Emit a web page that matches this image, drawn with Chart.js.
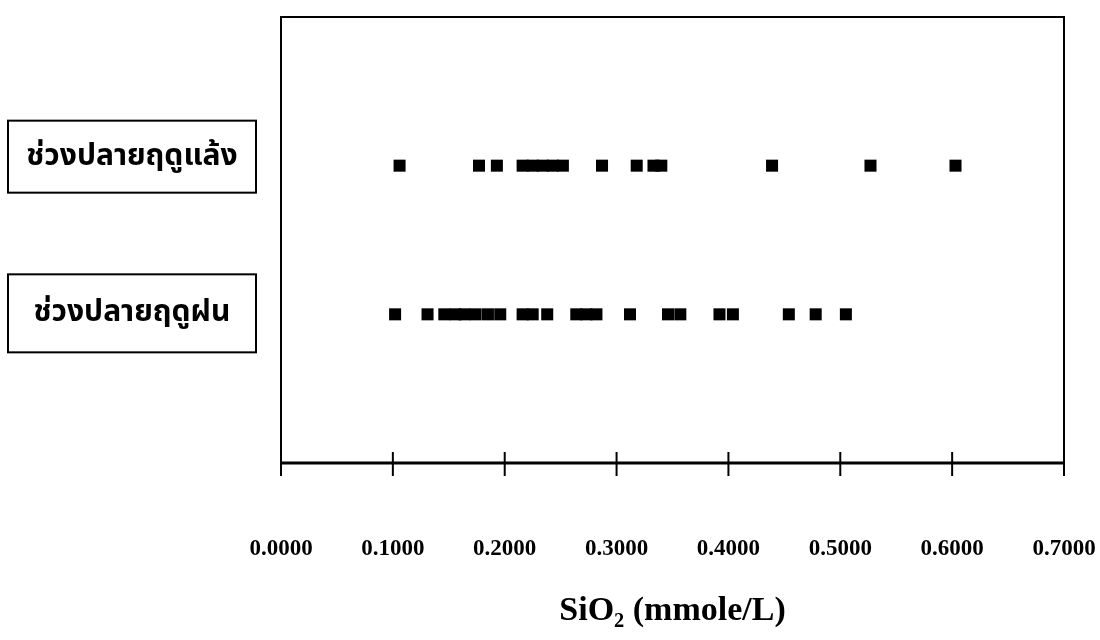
<!DOCTYPE html>
<html>
<head>
<meta charset="utf-8">
<title>SiO2</title>
<script src="https://cdn.jsdelivr.net/npm/chart.js@4.4.1/dist/chart.umd.min.js"></script>
<style>
  html, body { margin: 0; padding: 0; background: #fff; }
  #wrap { width: 1100px; height: 640px; }
</style>
</head>
<body>
<div id="wrap"><canvas id="myChart" width="1100" height="640"></canvas></div>
<script>
// season rows (top to bottom)
var categories = ['ช่วงปลายฤดูแล้ง', 'ช่วงปลายฤดูฝน'];

// SiO2 concentrations, mmole/L
var dryValues = [0.106, 0.177, 0.193, 0.216, 0.225, 0.234, 0.243, 0.252,
                 0.287, 0.318, 0.333, 0.340, 0.439, 0.527, 0.603];
var wetValues = [0.102, 0.131, 0.146, 0.156, 0.164, 0.174, 0.185, 0.196,
                 0.216, 0.225, 0.238, 0.264, 0.273, 0.282, 0.312, 0.346,
                 0.357, 0.392, 0.404, 0.454, 0.478, 0.505];

var xTicks = [0, 0.1, 0.2, 0.3, 0.4, 0.5, 0.6, 0.7];
var xTitle = 'SiO₂ (mmole/L)';

var thaiFont = "'Noto Sans Thai', 'Noto Sans Thai Looped', 'Loma', 'Garuda', 'Tlwg Typo', 'Noto Sans', sans-serif";
var serifFont = "'Liberation Serif', 'Times New Roman', serif";

function toPoints(values, row) {
  return values.map(function (v) { return { x: v, y: row }; });
}

/* frame, crossing tick marks and the boxed season labels */
var framePlugin = {
  id: 'frame',
  afterDraw: function (chart) {
    var ctx = chart.ctx;
    var a = chart.chartArea;
    var xs = chart.scales.x;
    var ys = chart.scales.y;
    ctx.save();
    ctx.strokeStyle = '#000';
    ctx.lineWidth = 2;
    ctx.beginPath();
    ctx.moveTo(a.left, a.bottom);
    ctx.lineTo(a.left, a.top);
    ctx.lineTo(a.right, a.top);
    ctx.lineTo(a.right, a.bottom);
    ctx.stroke();
    ctx.lineWidth = 3;
    ctx.beginPath();
    ctx.moveTo(a.left, a.bottom);
    ctx.lineTo(a.right, a.bottom);
    ctx.stroke();
    ctx.lineWidth = 2;
    xTicks.forEach(function (t) {
      var px = xs.getPixelForValue(t);
      ctx.beginPath();
      ctx.moveTo(px, a.bottom - 11);
      ctx.lineTo(px, a.bottom + 13);
      ctx.stroke();
    });

    var shifts = [-9, -1];
    var heights = [72, 78];
    ctx.font = 'bold 30px ' + thaiFont;
    ctx.textAlign = 'center';
    ctx.textBaseline = 'middle';
    ctx.fillStyle = '#000';
    categories.forEach(function (c, i) {
      var cy = ys.getPixelForValue(i + 1) + shifts[i];
      ctx.lineWidth = 2;
      ctx.strokeRect(8, cy - heights[i] / 2, 248, heights[i]);
      ctx.fillText(c, 132, cy + 2);
    });
    ctx.restore();
  }
};

const config = {
  type: 'scatter',
  data: {
    datasets: [
      {
        label: categories[0],
        data: toPoints(dryValues, 1),
        backgroundColor: '#000',
        borderWidth: 0,
        pointStyle: 'rect',
        pointRadius: 8.5,
        pointHoverRadius: 8.5
      },
      {
        label: categories[1],
        data: toPoints(wetValues, 2),
        backgroundColor: '#000',
        borderWidth: 0,
        pointStyle: 'rect',
        pointRadius: 8.5,
        pointHoverRadius: 8.5
      }
    ]
  },
  options: {
    responsive: false,
    animation: false,
    layout: {
      padding: { top: 17, left: 281, right: 36, bottom: 0 }
    },
    scales: {
      x: {
        type: 'linear',
        min: 0,
        max: 0.7,
        afterFit: function (scale) {
          scale.height = 177;
          scale.paddingLeft = 0;
          scale.paddingRight = 0;
        },
        afterBuildTicks: function (scale) {
          scale.ticks = xTicks.map(function (v) { return { value: v }; });
        },
        grid: { display: false, drawTicks: false },
        border: { display: false },
        ticks: {
          padding: 72,
          color: '#000',
          font: { family: serifFont, size: 23, weight: 'bold' },
          maxRotation: 0,
          callback: function (v) { return Number(v).toFixed(4); }
        },
        title: {
          display: true,
          text: xTitle,
          color: '#000',
          padding: { top: 0, bottom: 8 },
          font: { family: serifFont, size: 34, weight: 'bold' }
        }
      },
      y: {
        type: 'linear',
        min: 0,
        max: 3,
        reverse: true,
        afterFit: function (scale) { scale.width = 0; },
        grid: { display: false, drawTicks: false },
        border: { display: false },
        ticks: { display: false }
      }
    },
    plugins: {
      legend: { display: false },
      title: { display: false },
      tooltip: { enabled: false }
    }
  },
  plugins: [framePlugin]
};

var myChart = new Chart(document.getElementById('myChart'), config);
</script>
</body>
</html>
